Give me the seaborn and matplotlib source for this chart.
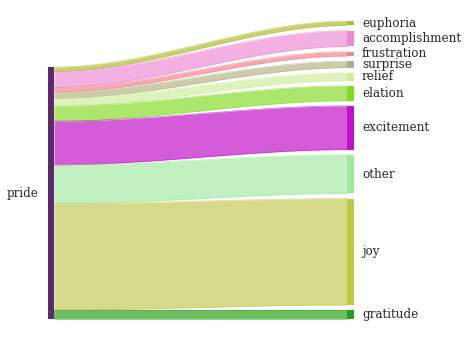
import numpy as np
import matplotlib.pyplot as plt
import seaborn as sns
from matplotlib.patches import Rectangle

# data: one source node flowing into several emotion nodes
source = "pride"
targets = [
    "euphoria",
    "accomplishment",
    "frustration",
    "surprise",
    "relief",
    "elation",
    "excitement",
    "other",
    "joy",
    "gratitude",
]
values = [4.5, 16, 4.5, 6.5, 8, 15, 44, 39, 107, 9]

source_color = "#5c2a6c"
node_colors = [
    "#b3c032",
    "#ee88d2",
    "#f08890",
    "#b0b088",
    "#ccee9a",
    "#80dd22",
    "#c010c8",
    "#a0e8a0",
    "#c0c848",
    "#20a020",
]
link_colors = [
    "#c8d070",
    "#f3b0e2",
    "#f7a8b0",
    "#cccbaa",
    "#dcf4bc",
    "#ade66c",
    "#d55cd8",
    "#c0f0c0",
    "#d6d88a",
    "#6cc060",
]

sns.set_theme(style="white")
plt.rcParams["font.family"] = ["DejaVu Serif"]

fig = plt.figure(figsize=(4.67, 3.4), dpi=100)
ax = fig.add_axes([0, 0, 1, 1])
ax.set_xlim(0, 467)
ax.set_ylim(340, 0)
ax.axis("off")

# layout
node_w = 6.5
x_left = 54
x_right = 347
left_top, bottom = 67, 319
right_top = 21

total = sum(values)
scale = (bottom - left_top) / total
gap = ((bottom - right_top) - total * scale) / (len(targets) - 1)

xs = np.linspace(x_left, x_right, 300)
t = (xs - x_left) / (x_right - x_left)
s = 3 * t**2 - 2 * t**3

y_l = left_top
y_r = right_top
for name, v, nc, lc in zip(targets, values, node_colors, link_colors):
    h = v * scale
    top = y_l + (y_r - y_l) * s
    ax.fill_between(xs, top, top + h, color=lc, lw=0)
    ax.plot(xs, top, color=nc, lw=0.5, alpha=0.6)
    ax.plot(xs, top + h, color=nc, lw=0.5, alpha=0.6)
    ax.add_patch(Rectangle((x_right, y_r), node_w, h, color=nc, lw=0))
    ax.text(
        x_right + node_w + 8.5,
        y_r + h / 2,
        name,
        ha="left",
        va="center",
        fontsize=8.6,
        color="#2a2a2a",
    )
    y_l += h
    y_r += h + gap

ax.add_patch(
    Rectangle((x_left - node_w, left_top), node_w, bottom - left_top, color=source_color, lw=0)
)
ax.text(
    x_left - node_w - 8.5,
    (left_top + bottom) / 2,
    source,
    ha="right",
    va="center",
    fontsize=8.6,
    color="#2a2a2a",
)

fig.savefig("out.png", dpi=100)
